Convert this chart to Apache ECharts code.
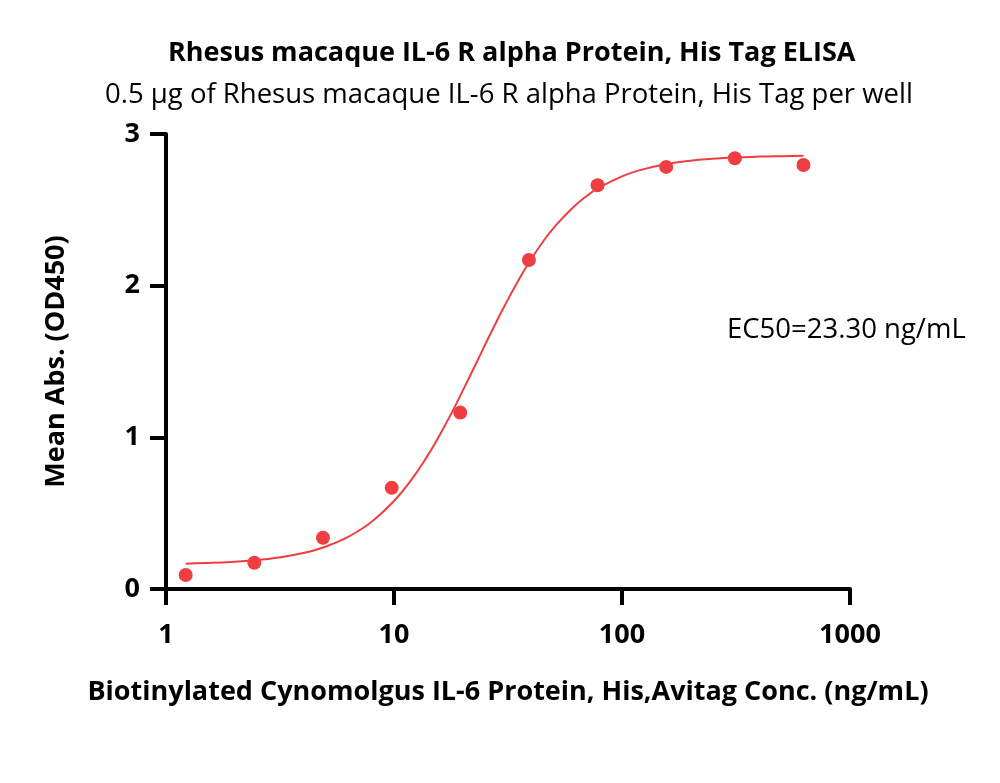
<!DOCTYPE html>
<html>
<head>
<meta charset="utf-8">
<script src="https://cdn.jsdelivr.net/npm/echarts@6/dist/echarts.min.js"></script>
<style>html,body{margin:0;padding:0;background:#fff}#c{width:1000px;height:783px}</style>
</head>
<body>
<div id="c"></div>
<script>
// Measured points
const concentrations = [1.22, 2.44, 4.88, 9.77, 19.53, 39.06, 78.13, 156.25, 312.5, 625];
const meanAbs = [0.092, 0.173, 0.338, 0.667, 1.163, 2.169, 2.662, 2.783, 2.840, 2.796];
// Fitted curve
const curveX = [1.22, 1.5, 2, 2.5, 3, 4, 5, 6, 7, 8, 10, 12, 14, 16, 18, 20, 23.3, 26, 30, 35, 40, 45, 50, 60, 70, 80, 100, 120, 150, 200, 250, 300, 400, 500, 625];
const curveY = [0.167, 0.171, 0.180, 0.191, 0.204, 0.237, 0.279, 0.328, 0.384, 0.445, 0.58, 0.726, 0.876, 1.025, 1.169, 1.306, 1.51, 1.658, 1.844, 2.031, 2.176, 2.289, 2.378, 2.506, 2.591, 2.649, 2.721, 2.762, 2.796, 2.824, 2.837, 2.844, 2.851, 2.854, 2.856];
const xTicks = [1, 10, 100, 1000];
const yTicks = [0, 1, 2, 3];

const titleText = 'Rhesus macaque IL-6 R alpha Protein, His Tag ELISA';
const subtitleText = '0.5 μg of Rhesus macaque IL-6 R alpha Protein, His Tag per well';
const xName = 'Biotinylated Cynomolgus IL-6 Protein, His,Avitag Conc. (ng/mL)';
const yName = 'Mean Abs. (OD450)';
const ec50Text = 'EC50=23.30 ng/mL';

const FONT = '"Open Sans", "Noto Sans", sans-serif';
const RED = '#EF3E42';

const chart = echarts.init(document.getElementById('c'));
chart.setOption({
  backgroundColor: '#fff',
  animation: false,
  title: [
    { text: titleText, left: 163, top: 35, textStyle: { fontFamily: FONT, fontWeight: 'bold', fontSize: 27, color: '#000' } },
    { text: subtitleText, left: 100, top: 76, textStyle: { fontFamily: FONT, fontWeight: 'normal', fontSize: 27.5, color: '#000' } }
  ],
  grid: { left: 166, right: 150, top: 134, bottom: 194, containLabel: false },
  xAxis: {
    type: 'log', logBase: 10, min: 1, max: 1000,
    name: xName, nameLocation: 'middle', nameGap: 90,
    nameTextStyle: { fontFamily: FONT, fontWeight: 'bold', fontSize: 27, color: '#000' },
    axisLine: { lineStyle: { color: '#000', width: 4 } },
    axisTick: { show: true, length: 16, lineStyle: { color: '#000', width: 4 } },
    minorTick: { show: false },
    splitLine: { show: false },
    axisLabel: { fontFamily: FONT, fontWeight: 'bold', fontSize: 27, color: '#000', margin: 33,
      formatter: v => xTicks.includes(Math.round(v)) ? String(Math.round(v)) : '' }
  },
  yAxis: {
    type: 'value', min: 0, max: 3, interval: 1,
    name: yName, nameLocation: 'middle', nameGap: 96, nameRotate: 90,
    nameTextStyle: { fontFamily: FONT, fontWeight: 'bold', fontSize: 27, color: '#000' },
    axisLine: { show: true, lineStyle: { color: '#000', width: 4 } },
    axisTick: { show: true, length: 16, lineStyle: { color: '#000', width: 4 } },
    splitLine: { show: false },
    axisLabel: { fontFamily: FONT, fontWeight: 'bold', fontSize: 27, color: '#000', margin: 26,
      formatter: v => yTicks.includes(v) ? String(v) : '' }
  },
  series: [
    {
      type: 'line', name: 'fit', smooth: true, showSymbol: false, symbol: 'none',
      data: curveX.map((x, i) => [x, curveY[i]]),
      lineStyle: { color: RED, width: 2 }, z: 2
    },
    {
      type: 'scatter', name: 'data', symbol: 'circle', symbolSize: 14,
      data: concentrations.map((x, i) => [x, meanAbs[i]]),
      itemStyle: { color: RED, opacity: 1 }, z: 3
    }
  ],
  graphic: [
    { type: 'text', left: 727, top: 316, style: { text: ec50Text, fontFamily: FONT, fontSize: 27.5, fill: '#000' } }
  ]
});
</script>
</body>
</html>
